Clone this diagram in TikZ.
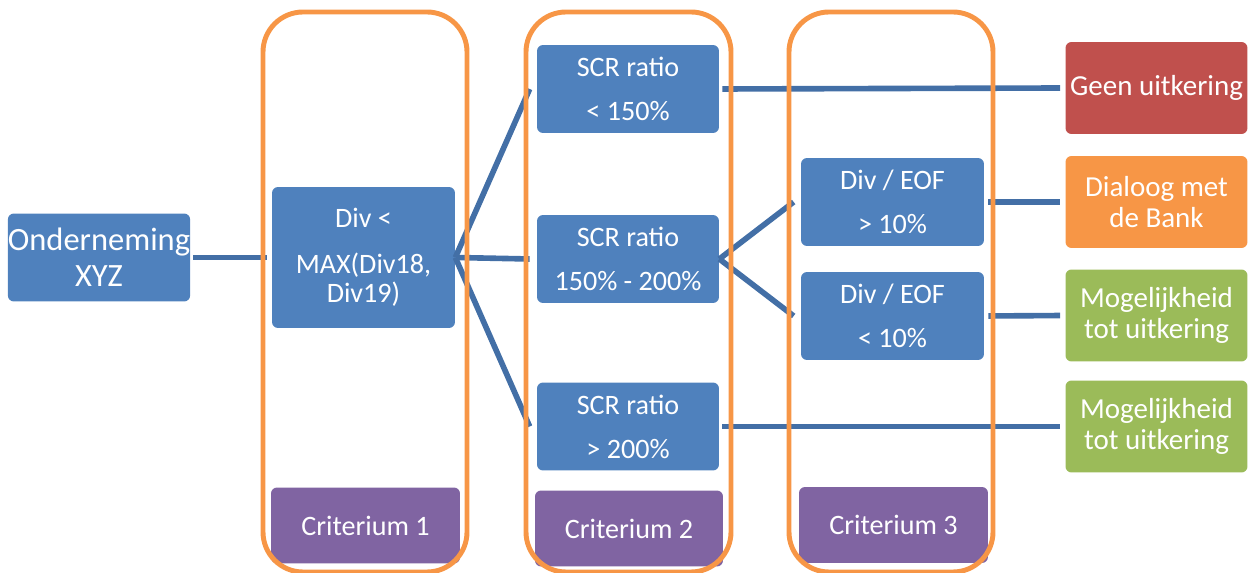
\documentclass[tikz,border=0pt]{standalone}
\usepackage{fontspec}
\setmainfont{Carlito}
\definecolor{boxblue}{HTML}{4F81BD}
\definecolor{lineblue}{HTML}{436FA6}
\definecolor{colorange}{HTML}{F79646}
\definecolor{boxred}{HTML}{C0504D}
\definecolor{boxgreen}{HTML}{9BBB59}
\definecolor{boxpurple}{HTML}{8064A2}
\tikzset{
  box/.style={rounded corners=0.12cm, text=white, align=center, inner sep=0pt,
    minimum width=3.64cm, minimum height=1.76cm},
  stepblue/.style={box, fill=boxblue, font=\fontsize{16}{25}\selectfont},
  result/.style={box, minimum height=1.84cm, font=\fontsize{16.5}{18}\selectfont},
  critbox/.style={box, fill=boxpurple, minimum width=3.78cm, minimum height=1.52cm,
    font=\fontsize{16}{18}\selectfont},
  link/.style={draw=lineblue, line width=3.2pt},
  column/.style={draw=colorange, line width=2.8pt, rounded corners=0.8cm}
}
\begin{document}
\begin{tikzpicture}[x=0.02cm, y=-0.02cm]
\useasboundingbox (0,0) rectangle (1248,573);
% left part
\node[stepblue, font=\fontsize{18.5}{20.5}\selectfont] (ond) at (99,257.5) {Onderneming\\XYZ};
\node[stepblue, minimum width=3.66cm, minimum height=2.82cm, font=\fontsize{16}{17}\selectfont] (divmax) at (363.5,257.5) {Div <\\[9pt]MAX(Div18,\\Div19)};
% SCR ratio
\node[stepblue] (scrA) at (628,89) {SCR ratio\\< 150\%};
\node[stepblue] (scrB) at (628,259) {SCR ratio\\150\% - 200\%};
\node[stepblue] (scrC) at (628,426.5) {SCR ratio\\> 200\%};
% Div / EOF
\node[stepblue, minimum width=3.66cm] (eofA) at (892.5,202) {Div / EOF\\> 10\%};
\node[stepblue, minimum width=3.66cm] (eofB) at (892.5,316) {Div / EOF\\< 10\%};
% outcomes
\node[result, fill=boxred] (geen) at (1156.5,88) {Geen uitkering};
\node[result, fill=colorange] (dial) at (1156.5,202) {Dialoog met\\de Bank};
\node[result, fill=boxgreen] (mog1) at (1156.5,315.5) {Mogelijkheid\\tot uitkering};
\node[result, fill=boxgreen] (mog2) at (1156.5,426.5) {Mogelijkheid\\tot uitkering};
% criteria
\node[critbox] (crit1) at (365.5,525.5) {Criterium 1};
\node[critbox, minimum width=3.76cm] (crit2) at (629,528.5) {Criterium 2};
\node[critbox] (crit3) at (893.5,525) {Criterium 3};
% connectors
\draw[link, shorten <=0.06cm, shorten >=0.1cm] (ond.east) -- (divmax.west);
\draw[link] (divmax.east) -- ([xshift=-0.14cm]scrA.west);
\draw[link] (divmax.east) -- ([xshift=-0.14cm]scrB.west);
\draw[link] (divmax.east) -- ([xshift=-0.14cm]scrC.west);
\draw[link] (scrB.east) -- ([xshift=-0.14cm]eofA.west);
\draw[link] (scrB.east) -- ([xshift=-0.14cm]eofB.west);
\draw[link, shorten <=0.06cm, shorten >=0.1cm] (scrA.east) -- (geen.west);
\draw[link, shorten <=0.08cm, shorten >=0.1cm] (eofA.east) -- (dial.west);
\draw[link, shorten <=0.08cm, shorten >=0.1cm] (eofB.east) -- (mog1.west);
\draw[link, shorten <=0.06cm, shorten >=0.1cm] (scrC.east) -- (mog2.west);
% criterium columns
\draw[column] (263,12) rectangle (467,572);
\draw[column] (526,12) rectangle (731,572);
\draw[column] (789,12) rectangle (993,572);
\end{tikzpicture}
\end{document}
